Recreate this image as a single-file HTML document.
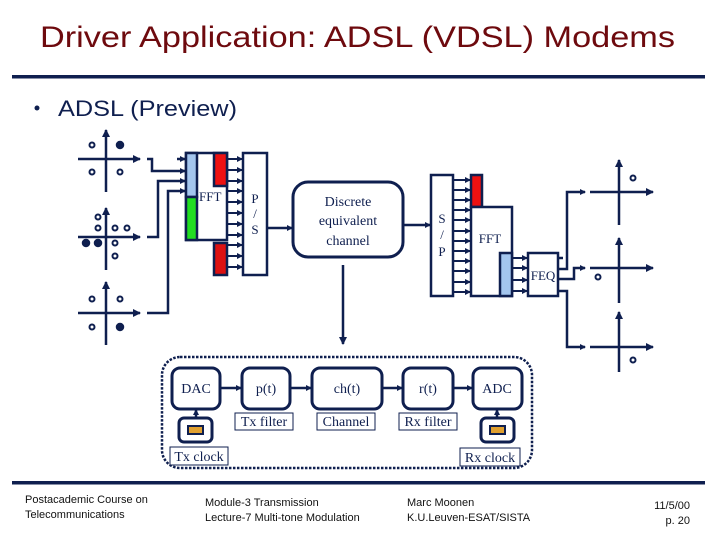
<!DOCTYPE html>
<html><head><meta charset="utf-8"><style>
html,body{margin:0;padding:0;background:#fff;}
svg{display:block}
</style></head><body>
<svg width="720" height="540" viewBox="0 0 720 540" xmlns="http://www.w3.org/2000/svg">
<defs>
<marker id="a" markerWidth="6" markerHeight="6" refX="5" refY="3" orient="auto" markerUnits="userSpaceOnUse"><path d="M0,0 L6,3 L0,6 z" fill="#0f1f4f"/></marker>
<marker id="b" markerWidth="8" markerHeight="8" refX="7" refY="4" orient="auto" markerUnits="userSpaceOnUse"><path d="M0,0 L8,4 L0,8 z" fill="#0f1f4f"/></marker>
</defs>
<text x="40" y="47" textLength="635" lengthAdjust="spacingAndGlyphs" font-family="Liberation Sans, sans-serif" font-size="30" fill="#6e0a0e">Driver Application: ADSL (VDSL) Modems</text>
<rect x="12" y="75" width="693" height="3.5" fill="#0f1f4f"/>
<circle cx="37" cy="108" r="2.5" fill="#0f1f4f"/>
<text x="58" y="116" textLength="179" lengthAdjust="spacingAndGlyphs" font-family="Liberation Sans, sans-serif" font-size="22" fill="#0f1f4f">ADSL (Preview)</text>

<g stroke="#0f1f4f" stroke-width="2.5" fill="none">
<line x1="78" y1="159" x2="140" y2="159" marker-end="url(#b)"/><line x1="106" y1="192" x2="106" y2="130" marker-end="url(#b)"/>
<line x1="78" y1="237" x2="140" y2="237" marker-end="url(#b)"/><line x1="106" y1="270" x2="106" y2="208" marker-end="url(#b)"/>
<line x1="78" y1="313" x2="140" y2="313" marker-end="url(#b)"/><line x1="106" y1="345" x2="106" y2="282" marker-end="url(#b)"/>
<line x1="177" y1="159" x2="185" y2="159" marker-end="url(#a)"/>
<polyline points="147,159 152,159 152,171 185,171" marker-end="url(#a)"/>
<polyline points="147,237 158,237 158,181 185,181" marker-end="url(#a)"/>
<polyline points="147,313 168,313 168,191 185,191" marker-end="url(#a)"/>
</g>
<g fill="#0f1f4f" stroke="#0f1f4f" stroke-width="1.5">
<circle cx="92" cy="145" r="2.5" fill="#fff" stroke-width="2"/><circle cx="120" cy="145" r="3.5"/><circle cx="92" cy="172" r="2.5" fill="#fff" stroke-width="2"/><circle cx="120" cy="172" r="2.5" fill="#fff" stroke-width="2"/>
<circle cx="98" cy="217" r="2.5" fill="#fff" stroke-width="2"/><circle cx="98" cy="228" r="2.5" fill="#fff" stroke-width="2"/><circle cx="115" cy="228" r="2.5" fill="#fff" stroke-width="2"/><circle cx="127" cy="228" r="2.5" fill="#fff" stroke-width="2"/>
<circle cx="86" cy="243" r="3.5"/><circle cx="98" cy="243" r="3.5"/><circle cx="115" cy="243" r="2.5" fill="#fff" stroke-width="2"/><circle cx="115" cy="256" r="2.5" fill="#fff" stroke-width="2"/>
<circle cx="92" cy="299" r="2.5" fill="#fff" stroke-width="2"/><circle cx="120" cy="299" r="2.5" fill="#fff" stroke-width="2"/><circle cx="92" cy="327" r="2.5" fill="#fff" stroke-width="2"/><circle cx="120" cy="327" r="3.5"/>
</g>

<g stroke="#0f1f4f" stroke-width="2.5">
<rect x="186" y="153" width="41" height="87" fill="#fff"/>
<rect x="186" y="153" width="11" height="44" fill="#a4c6ee"/>
<rect x="186" y="197" width="11" height="43" fill="#22dd22"/>
<rect x="214" y="153" width="13" height="33" fill="#ee1111"/>
<rect x="214" y="243" width="13" height="32" fill="#dd1111"/>
<rect x="243" y="153" width="24" height="122" fill="#fff"/>
</g>
<text x="199" y="201" font-family="Liberation Serif, serif" font-size="13" fill="#0f1f4f">FFT</text>
<text x="255" y="203" text-anchor="middle" font-family="Liberation Serif, serif" font-size="13" fill="#0f1f4f">P</text>
<text x="255" y="218" text-anchor="middle" font-family="Liberation Serif, serif" font-size="13" fill="#0f1f4f">/</text>
<text x="255" y="234" text-anchor="middle" font-family="Liberation Serif, serif" font-size="13" fill="#0f1f4f">S</text>
<g stroke="#0f1f4f" stroke-width="2">
<line x1="228" y1="159" x2="242" y2="159" marker-end="url(#a)"/><line x1="228" y1="170" x2="242" y2="170" marker-end="url(#a)"/>
<line x1="228" y1="181" x2="242" y2="181" marker-end="url(#a)"/><line x1="228" y1="191" x2="242" y2="191" marker-end="url(#a)"/>
<line x1="228" y1="202" x2="242" y2="202" marker-end="url(#a)"/><line x1="228" y1="213" x2="242" y2="213" marker-end="url(#a)"/>
<line x1="228" y1="224" x2="242" y2="224" marker-end="url(#a)"/><line x1="228" y1="235" x2="242" y2="235" marker-end="url(#a)"/>
<line x1="228" y1="245" x2="242" y2="245" marker-end="url(#a)"/><line x1="228" y1="256" x2="242" y2="256" marker-end="url(#a)"/>
<line x1="228" y1="267" x2="242" y2="267" marker-end="url(#a)"/>
<line x1="268" y1="228" x2="292" y2="228" stroke-width="2.5" marker-end="url(#a)"/>
<line x1="403" y1="225" x2="430" y2="225" stroke-width="2.5" marker-end="url(#a)"/>
<line x1="343" y1="265" x2="343" y2="344" stroke-width="2.5" marker-end="url(#b)"/>
</g>
<rect x="293" y="182" width="110" height="75" rx="15" fill="#fff" stroke="#0f1f4f" stroke-width="3"/>
<g font-family="Liberation Serif, serif" font-size="14" fill="#0f1f4f" text-anchor="middle">
<text x="348" y="206">Discrete</text><text x="348" y="225">equivalent</text><text x="348" y="245">channel</text>
</g>

<g stroke="#0f1f4f" stroke-width="2.5">
<rect x="431" y="175" width="22" height="121" fill="#fff"/>
<rect x="471" y="175" width="11" height="32" fill="#ee1111"/>
<rect x="471" y="207" width="41" height="89" fill="#fff"/>
<rect x="500" y="253" width="12" height="43" fill="#a4c6ee"/>
<rect x="528" y="253" width="30" height="43" fill="#fff"/>
</g>
<g font-family="Liberation Serif, serif" font-size="13" fill="#0f1f4f" text-anchor="middle">
<text x="442" y="223">S</text><text x="442" y="239">/</text><text x="442" y="256">P</text>
<text x="490" y="243">FFT</text>
<text x="543" y="280">FEQ</text>
</g>
<g stroke="#0f1f4f" stroke-width="2">
<line x1="454" y1="180" x2="470" y2="180" marker-end="url(#a)"/><line x1="454" y1="190" x2="470" y2="190" marker-end="url(#a)"/>
<line x1="454" y1="200" x2="470" y2="200" marker-end="url(#a)"/><line x1="454" y1="210" x2="470" y2="210" marker-end="url(#a)"/>
<line x1="454" y1="220" x2="470" y2="220" marker-end="url(#a)"/><line x1="454" y1="231" x2="470" y2="231" marker-end="url(#a)"/>
<line x1="454" y1="241" x2="470" y2="241" marker-end="url(#a)"/><line x1="454" y1="251" x2="470" y2="251" marker-end="url(#a)"/>
<line x1="454" y1="261" x2="470" y2="261" marker-end="url(#a)"/><line x1="454" y1="271" x2="470" y2="271" marker-end="url(#a)"/>
<line x1="454" y1="282" x2="470" y2="282" marker-end="url(#a)"/><line x1="454" y1="292" x2="470" y2="292" marker-end="url(#a)"/>
<line x1="513" y1="258" x2="527" y2="258" marker-end="url(#a)"/><line x1="513" y1="268" x2="527" y2="268" marker-end="url(#a)"/>
<line x1="513" y1="280" x2="527" y2="280" marker-end="url(#a)"/><line x1="513" y1="291" x2="527" y2="291" marker-end="url(#a)"/>
</g>
<g stroke="#0f1f4f" stroke-width="2.5" fill="none">
<line x1="558" y1="258" x2="563" y2="258"/>
<polyline points="558,269 567,269 567,192 585,192" marker-end="url(#a)"/>
<polyline points="558,279 574,279 574,268 585,268" marker-end="url(#a)"/>
<polyline points="558,291 567,291 567,347 585,347" marker-end="url(#a)"/>
<line x1="590" y1="192" x2="653" y2="192" marker-end="url(#b)"/><line x1="619" y1="225" x2="619" y2="160" marker-end="url(#b)"/>
<line x1="590" y1="268" x2="653" y2="268" marker-end="url(#b)"/><line x1="619" y1="303" x2="619" y2="238" marker-end="url(#b)"/>
<line x1="590" y1="347" x2="653" y2="347" marker-end="url(#b)"/><line x1="619" y1="372" x2="619" y2="312" marker-end="url(#b)"/>
<circle cx="633" cy="178" r="2.5" stroke-width="2"/><circle cx="598" cy="277" r="2.5" stroke-width="2"/><circle cx="633" cy="360" r="2.5" stroke-width="2"/>
</g>

<rect x="162" y="357" width="370" height="111" rx="18" fill="none" stroke="#0f1f4f" stroke-width="2.5" stroke-dasharray="2.5,1.5"/>
<g stroke="#0f1f4f" stroke-width="3" fill="#fff">
<rect x="172" y="368" width="48" height="41" rx="8"/>
<rect x="242" y="368" width="48" height="41" rx="8"/>
<rect x="312" y="368" width="70" height="41" rx="8"/>
<rect x="403" y="368" width="50" height="41" rx="8"/>
<rect x="473" y="368" width="49" height="41" rx="8"/>
<rect x="179" y="418" width="33" height="24" rx="5"/>
<rect x="481" y="418" width="33" height="24" rx="5"/>
</g>
<g stroke="#0f1f4f" stroke-width="2.5">
<line x1="220" y1="388" x2="241" y2="388" marker-end="url(#a)"/>
<line x1="290" y1="388" x2="311" y2="388" marker-end="url(#a)"/>
<line x1="382" y1="388" x2="402" y2="388" marker-end="url(#a)"/>
<line x1="453" y1="388" x2="472" y2="388" marker-end="url(#a)"/>
<line x1="196" y1="418" x2="196" y2="410" marker-end="url(#a)"/>
<line x1="497" y1="418" x2="497" y2="410" marker-end="url(#a)"/>
</g>
<rect x="188" y="426" width="15" height="8" fill="#e0a030" stroke="#0f1f4f" stroke-width="2"/>
<rect x="490" y="426" width="15" height="8" fill="#e0a030" stroke="#0f1f4f" stroke-width="2"/>
<g fill="#fff" stroke="#0f1f4f" stroke-width="1">
<rect x="235" y="413" width="58" height="17"/><rect x="317" y="413" width="58" height="17"/><rect x="399" y="413" width="58" height="17"/>
<rect x="170" y="447" width="58" height="18"/><rect x="460" y="448" width="60" height="18"/>
</g>
<g font-family="Liberation Serif, serif" font-size="14" fill="#0f1f4f" text-anchor="middle">
<text x="196" y="393">DAC</text><text x="266" y="393">p(t)</text><text x="347" y="393">ch(t)</text><text x="428" y="393">r(t)</text><text x="497" y="393">ADC</text>
<text x="264" y="426">Tx filter</text><text x="346" y="426">Channel</text><text x="428" y="426">Rx filter</text>
<text x="199" y="461">Tx clock</text><text x="490" y="462">Rx clock</text>
</g>

<rect x="12" y="481" width="693" height="3.5" fill="#0f1f4f"/>
<g font-family="Liberation Sans, sans-serif" font-size="11" fill="#111">
<text x="25" y="503">Postacademic Course on</text><text x="25" y="518">Telecommunications</text>
<text x="205" y="506">Module-3  Transmission</text><text x="205" y="521">Lecture-7  Multi-tone Modulation</text>
<text x="407" y="506">Marc Moonen</text><text x="407" y="521">K.U.Leuven-ESAT/SISTA</text>
<text x="690" y="509" text-anchor="end">11/5/00</text><text x="690" y="524" text-anchor="end">p. 20</text>
</g>
</svg>
</body></html>
